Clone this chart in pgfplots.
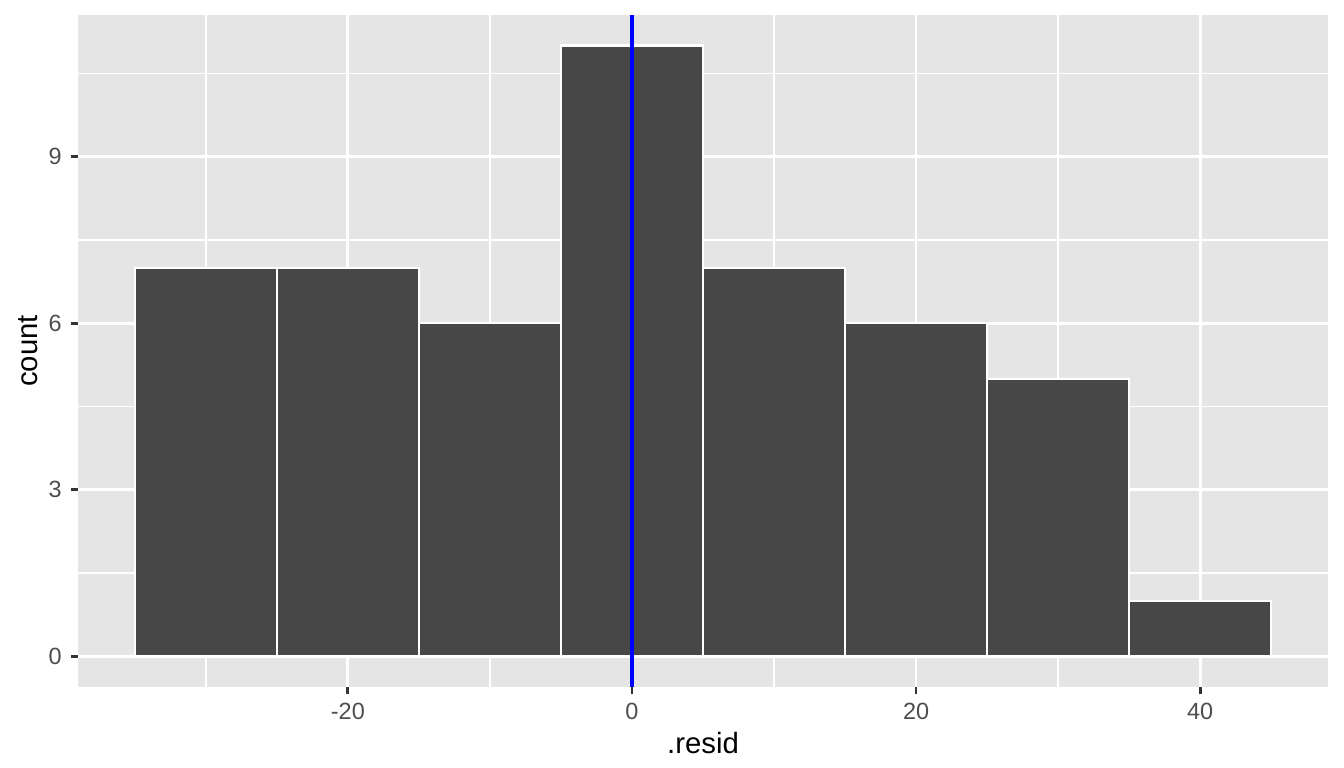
\documentclass[border=0pt]{standalone}
\usepackage{pgfplots}
\pgfplotsset{compat=1.18}
\usepackage{fontspec}
\setmainfont{Liberation Sans}
\definecolor{panelbg}{HTML}{E5E5E5}
\definecolor{barfill}{HTML}{474747}
\definecolor{ticklab}{HTML}{4D4D4D}
\definecolor{tickcol}{HTML}{333333}
\begin{document}
\begin{tikzpicture}
\begin{axis}[
  scale only axis,
  width=468.75pt, height=252pt,
  xmin=-39, xmax=49, ymin=-0.55, ymax=11.55,
  axis background/.style={fill=panelbg},
  axis line style={draw=none},
  xtick={-20,0,20,40}, ytick={0,3,6,9},
  minor xtick={-30,-10,10,30}, minor ytick={1.5,4.5,7.5,10.5},
  xmajorgrids, ymajorgrids, xminorgrids, yminorgrids,
  major grid style={white, line width=1.07pt},
  minor grid style={white, line width=0.53pt},
  tick align=outside,
  major tick length=2.75pt, minor tick length=0pt,
  tick style={tickcol, line width=1.07pt},
  xtick pos=bottom, ytick pos=left,
  /pgf/number format/assume math mode=true,
  ticklabel style={font=\fontsize{8.8}{10}\selectfont, text=ticklab},
  xticklabel style={inner sep=1pt, yshift=-2.2pt},
  yticklabel style={inner sep=1pt, xshift=-2.2pt},
  xlabel={.resid}, ylabel={count},
  label style={font=\fontsize{11}{13}\selectfont, text=black},
  xlabel style={at={(axis description cs:0.5,0)}, anchor=north, yshift=-13.5pt},
  ylabel style={at={(axis description cs:0,0.5)}, anchor=south, yshift=11.6pt},
  clip=false,
]
\addplot[ybar interval, fill=barfill, draw=white, line width=0.8pt] coordinates {
  (-35,7) (-25,7) (-15,6) (-5,11) (5,7) (15,6) (25,5) (35,1) (45,1)
};
\addplot[blue, line width=1.2pt] coordinates {(0,-0.55) (0,11.55)};
\end{axis}
\path[use as bounding box] (-29.25pt,-30.375pt) rectangle (474.75pt,257.625pt);
\end{tikzpicture}
\end{document}
